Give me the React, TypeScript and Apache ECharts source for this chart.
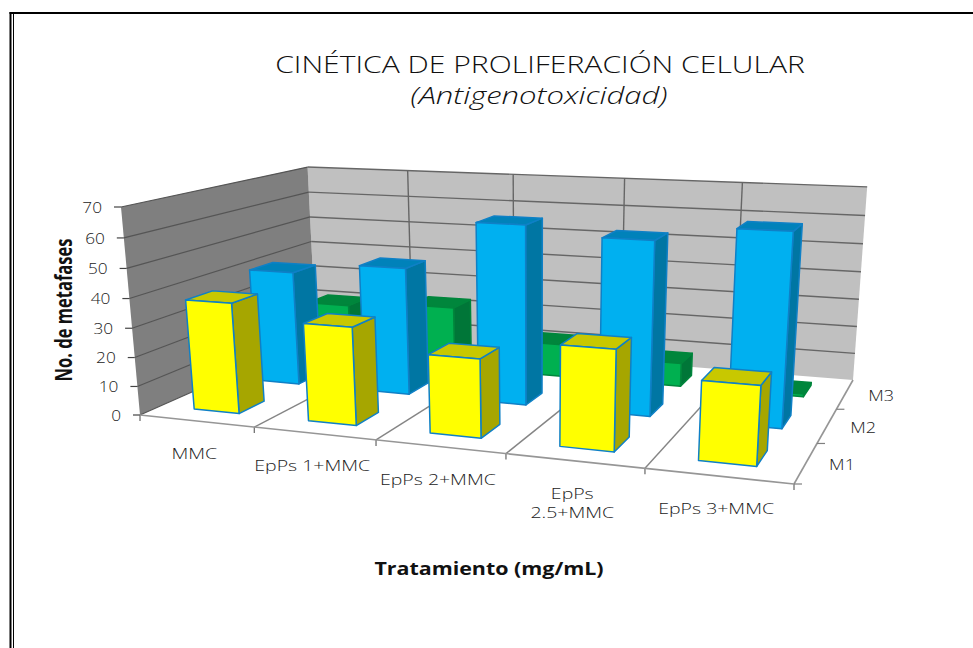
import React, { useEffect, useRef } from "react";
import * as echarts from "echarts";

// Chart content
const titleLine = "CINÉTICA DE PROLIFERACIÓN CELULAR";
const subtitleLine = "(Antigenotoxicidad)";
const yAxisTitle = "No. de metafases";
const xAxisTitle = "Tratamiento (mg/mL)";
const categories = ["MMC", "EpPs 1+MMC", "EpPs 2+MMC", "EpPs\n2.5+MMC", "EpPs 3+MMC"];
const rows = ["M1", "M2", "M3"];
const yTicks = [0, 10, 20, 30, 40, 50, 60, 70];
const m1Values = [38, 33, 26, 32.5, 25];
const m2Values = [41, 45, 62, 59, 64];
const m3Values = [21, 23, 12, 8.5, 1];

// Screen positions of the 3D frame's corners
const floorQuad = [[140, 415], [794, 484], [853, 380], [316, 337]];
const frontTop = [121, 207];
const backTops = [[308, 165], [867, 188]];

const GRID = 600;
const BAR_WIDTH = 0.4;
const BAR_DEPTH = 0.4;
const FONT = "'Open Sans', sans-serif";

// Projective camera: (u, v, z) in the unit cube -> screen
function buildCamera() {
  const [[x0, y0], [x1, y1], [x2, y2], [x3, y3]] = floorQuad;
  const dx1 = x1 - x2, dx2 = x3 - x2, sx = x0 - x1 + x2 - x3;
  const dy1 = y1 - y2, dy2 = y3 - y2, sy = y0 - y1 + y2 - y3;
  const den = dx1 * dy2 - dx2 * dy1;
  const g = (sx * dy2 - dx2 * sy) / den;
  const h = (dx1 * sy - sx * dy1) / den;
  const a = x1 - x0 + g * x1, b = x3 - x0 + h * x3;
  const d = y1 - y0 + g * y1, e = y3 - y0 + h * y3;
  const at = (k: number) => {
    const c = frontTop[0] * (1 + k) - x0;
    const f = frontTop[1] * (1 + k) - y0;
    return (u: number, v: number, z: number) => {
      const w = g * u + h * v + k * z + 1;
      return [(a * u + b * v + c * z + x0) / w, (d * u + e * v + f * z + y0) / w];
    };
  };
  // The vertical perspective term is the one that best lands on the two back corners
  let best = 0;
  let bestErr = Infinity;
  for (let k = -0.5; k <= 0.5; k += 0.0005) {
    const m = at(k);
    const p = m(0, 1, 1), q = m(1, 1, 1);
    const err = Math.hypot(p[0] - backTops[0][0], p[1] - backTops[0][1]) + Math.hypot(q[0] - backTops[1][0], q[1] - backTops[1][1]);
    if (err < bestErr) { bestErr = err; best = k; }
  }
  return at(best);
}
const project = buildCamera();

const polygon = (points: number[][], fill: string, stroke?: string, lineWidth = 0) => ({
  type: "polygon",
  shape: { points },
  style: { fill, stroke: stroke ?? "none", lineWidth, lineJoin: "round" },
});

const line = (p: number[], q: number[], stroke: string, lineWidth: number) => ({
  type: "line",
  shape: { x1: p[0], y1: p[1], x2: q[0], y2: q[1] },
  style: { stroke, lineWidth },
});

const label = (text: string, x: number, y: number, align: string, fontSize: number, scaleX = 1.3) => ({
  type: "text",
  x,
  y,
  scaleX,
  style: {
    text,
    fill: "#222222",
    fontFamily: FONT,
    fontSize,
    fontWeight: 300,
    align,
    verticalAlign: "middle",
    lineHeight: 19,
  },
});

// Walls, floor lines, ticks and tick labels of the 3D frame
function renderFrame(_params: any, api: any) {
  const band = api.size([1, 0])[0] / GRID;
  const zOf = (t: number) => 1 - api.coord([0, t])[1] / GRID;
  const children: any[] = [];
  children.push(polygon([project(0, 1, 0), project(1, 1, 0), project(1, 1, 1), project(0, 1, 1)], "#c0c0c0"));
  children.push(polygon([project(0, 0, 0), project(0, 1, 0), project(0, 1, 1), project(0, 0, 1)], "#7f7f7f"));

  yTicks.forEach((t) => {
    const z = zOf(t);
    const front = project(0, 0, z);
    children.push(line(front, project(0, 1, z), "#555555", 1.2));
    if (t > 0) children.push(line(project(0, 1, z), project(1, 1, z), "#666666", 1.4));
    children.push(line([front[0] - 7, front[1]], front, "#444444", 1.2));
    children.push(label(String(t), front[0] - 19, front[1], "right", 15, 1.15));
  });

  categories.forEach((c, i) => {
    const edge = api.coord([i, 0])[0] / GRID - band / 2;
    if (i > 0) {
      children.push(line(project(edge, 1, 0), project(edge, 1, 1), "#666666", 1.4));
      children.push(line(project(edge, 0, 0), project(edge, 1, 0), "#858585", 1.4));
    }
    const tick = project(edge, 0, 0);
    children.push(line(tick, [tick[0], tick[1] + 6], "#666666", 1.2));
    const mid = project(edge + band / 2, 0, 0);
    const lines = c.split("\n").length;
    children.push(label(c, mid[0] - 2, mid[1] + 32 + (lines - 1) * 9.5, "center", 15));
  });
  const end = project(1, 0, 0);
  children.push(line(end, [end[0], end[1] + 6], "#666666", 1.2));

  children.push(line(project(0, 0, 0), project(1, 0, 0), "#969696", 1.6));
  children.push(line(project(1, 0, 0), project(1, 1, 0), "#969696", 1.6));

  rows.forEach((r, j) => {
    const tick = project(1, j / 3, 0);
    children.push(line(tick, [tick[0] + 8, tick[1]], "#808080", 1.2));
    const mid = project(1, (j + 0.5) / 3, 0);
    children.push(label(r, mid[0] + 36, mid[1] + 1, "center", 15, 1.2));
  });
  return { type: "group", children };
}

// One 3D column per data item: [category index, depth row, value]
const renderBar = (front: string, side: string, top: string, edge: string) => (_params: any, api: any) => {
  const c = api.coord([api.value(0), api.value(2)]);
  const uc = c[0] / GRID;
  const z = 1 - c[1] / GRID;
  const band = api.size([1, 0])[0] / GRID;
  const u0 = uc - (band * BAR_WIDTH) / 2, u1 = uc + (band * BAR_WIDTH) / 2;
  const row = api.value(1);
  const v0 = (row + 0.5 - BAR_DEPTH / 2) / rows.length, v1 = (row + 0.5 + BAR_DEPTH / 2) / rows.length;
  return {
    type: "group",
    children: [
      polygon([project(u1, v0, 0), project(u1, v1, 0), project(u1, v1, z), project(u1, v0, z)], side, edge, 1.5),
      polygon([project(u0, v0, z), project(u1, v0, z), project(u1, v1, z), project(u0, v1, z)], top, edge, 1.5),
      polygon([project(u0, v0, 0), project(u1, v0, 0), project(u1, v0, z), project(u0, v0, z)], front, edge, 1.5),
    ],
  };
};

const rowData = (values: number[], row: number) => values.map((v, i) => [i, row, v]);

const EDGE = "#0f80c6";

export default function App() {
  const ref = useRef<HTMLDivElement>(null);
  useEffect(() => {
    document.body.style.margin = "0";
    const chart = echarts.init(ref.current!, undefined, { renderer: "svg" });
    const common = { type: "custom", silent: true, encode: { x: 0, y: 2 } };
    chart.setOption({
      animation: false,
      backgroundColor: "#ffffff",
      grid: { left: 0, top: 0, width: GRID, height: GRID, show: false },
      xAxis: { type: "category", data: categories, show: false },
      yAxis: { type: "value", min: 0, max: 70, interval: 10, show: false },
      series: [
        { type: "custom", silent: true, data: [[0, 0]], renderItem: renderFrame },
        { ...common, name: rows[2], data: rowData(m3Values, 2), renderItem: renderBar("#00b050", "#007638", "#00863c", "#00863c") },
        { ...common, name: rows[1], data: rowData(m2Values, 1), renderItem: renderBar("#00b0f0", "#0076a3", "#0082ba", EDGE) },
        { ...common, name: rows[0], data: rowData(m1Values, 0), renderItem: renderBar("#ffff00", "#a6a600", "#c8c800", EDGE) },
      ],
      graphic: [
        { type: "rect", silent: true, shape: { x: 9.5, y: 12, width: 2, height: 640 }, style: { fill: "#000" } },
        { type: "rect", silent: true, shape: { x: 13, y: 14, width: 1, height: 640 }, style: { fill: "#000" } },
        { type: "rect", silent: true, shape: { x: 9.5, y: 12, width: 970, height: 2 }, style: { fill: "#000" } },
        { type: "text", silent: true, x: 540, y: 64, scaleX: 1.254, style: { text: titleLine, fill: "#111", fontFamily: FONT, fontSize: 24, fontWeight: 300, align: "center", verticalAlign: "middle" } },
        { type: "text", silent: true, x: 539, y: 94, scaleX: 1.296, style: { text: subtitleLine, fill: "#111", fontFamily: FONT, fontSize: 24, fontWeight: 300, fontStyle: "italic", align: "center", verticalAlign: "middle" } },
        { type: "text", silent: true, x: 489, y: 568, scaleX: 1.19, style: { text: xAxisTitle, fill: "#111", fontFamily: FONT, fontSize: 18, fontWeight: 700, align: "center", verticalAlign: "middle" } },
        { type: "text", silent: true, x: 63, y: 310, rotation: Math.PI / 2, scaleX: 0.69, style: { text: yAxisTitle, fill: "#111", fontFamily: FONT, fontSize: 24, fontWeight: 700, align: "center", verticalAlign: "middle" } },
      ],
    });
    return () => chart.dispose();
  }, []);
  return <div ref={ref} style={{ position: "fixed", left: 0, top: 0, width: 973, height: 648 }} />;
}
